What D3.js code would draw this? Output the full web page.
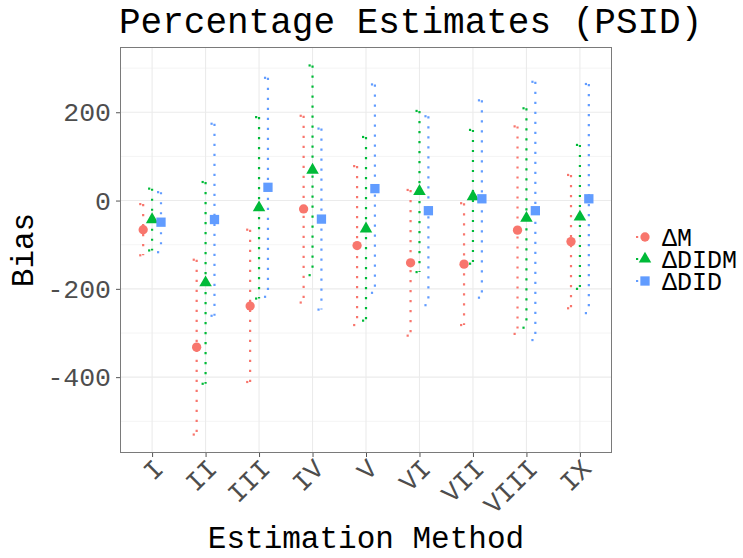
<!DOCTYPE html>
<html>
<head>
<meta charset="utf-8">
<script src="https://cdn.jsdelivr.net/npm/d3@7"></script>
<style>
  html, body { margin: 0; padding: 0; background: #fff; }
  svg { display: block; }
  text { font-family: "Liberation Mono", "DejaVu Sans Mono", monospace; }
</style>
</head>
<body>
<svg id="chart" width="743" height="558"></svg>
<script>
// ---- data ----
const categories = ["I","II","III","IV","V","VI","VII","VIII","IX"];
const seriesNames = ["\u0394M", "\u0394DIDM", "\u0394DID"];
const M_est  = [-66, -332, -239, -19, -102, -141, -144, -67, -93];
const M_lo   = [-124, -530, -411, -231, -282, -306, -282, -302, -244];
const M_hi   = [-8, -134, -66, 192, 78, 24, -6, 168, 58];
const DIDM_est = [-43, -186, -16, 69, -64, 21, 9, -40, -37];
const DIDM_lo  = [-113, -415, -222, -169, -272, -162, -143, -288, -200];
const DIDM_hi  = [27, 42, 189, 306, 144, 203, 160, 209, 126];
const DID_est = [-49, -43, 30, -42, 27, -23, 4, -23, 4];
const DID_lo  = [-117, -261, -218, -247, -209, -237, -220, -316, -255];
const DID_hi  = [19, 174, 278, 163, 263, 191, 227, 269, 264];
const yTicks = [-400, -200, 0, 200];
const yMinor = [-500, -300, -100, 100, 300];

const colors = ["#F8766D", "#00BA38", "#619CFF"];
const shapes = ["circle", "triangle", "square"];

const series = [
  {est: M_est, lo: M_lo, hi: M_hi},
  {est: DIDM_est, lo: DIDM_lo, hi: DIDM_hi},
  {est: DID_est, lo: DID_lo, hi: DID_hi}
];

// ---- layout ----
const panel = {left: 120, right: 612, top: 47, bottom: 453};
const svg = d3.select("#chart");

const x = d3.scalePoint().domain(categories).range([panel.left, panel.right]).padding(0.6);
const step = x.step();
const dodge = [-1/6, 0, 1/6];

const allVals = [].concat(M_lo, M_hi, DIDM_lo, DIDM_hi, DID_lo, DID_hi);
const ext = d3.extent(allVals);
const pad = (ext[1] - ext[0]) * 0.05;
const y = d3.scaleLinear().domain([ext[0] - pad, ext[1] + pad]).range([panel.bottom, panel.top]);

// panel background & grid
svg.append("rect").attr("x", panel.left).attr("y", panel.top)
  .attr("width", panel.right - panel.left).attr("height", panel.bottom - panel.top)
  .attr("fill", "#fff");

const grid = svg.append("g");
grid.selectAll("line.minor").data(yMinor).enter().append("line")
  .attr("x1", panel.left).attr("x2", panel.right)
  .attr("y1", d => y(d)).attr("y2", d => y(d))
  .attr("stroke", "#EBEBEB").attr("stroke-width", 0.55);
grid.selectAll("line.majy").data(yTicks).enter().append("line")
  .attr("x1", panel.left).attr("x2", panel.right)
  .attr("y1", d => y(d)).attr("y2", d => y(d))
  .attr("stroke", "#EBEBEB").attr("stroke-width", 1.1);
grid.selectAll("line.majx").data(categories).enter().append("line")
  .attr("x1", d => x(d)).attr("x2", d => x(d))
  .attr("y1", panel.top).attr("y2", panel.bottom)
  .attr("stroke", "#EBEBEB").attr("stroke-width", 1.1);

// error bars
const capHalf = 4;
const dotStyle = {w: 2.2, dash: "2.2 7.8"};
series.forEach((s, si) => {
  const g = svg.append("g");
  categories.forEach((c, i) => {
    const cx = x(c) + dodge[si] * step;
    const yt = y(s.hi[i]), yb = y(s.lo[i]);
    const segs = [
      [cx - capHalf, yt, cx + capHalf, yt],
      [cx, yt, cx, yb],
      [cx - capHalf, yb, cx + capHalf, yb]
    ];
    segs.forEach(sg => {
      g.append("line")
        .attr("x1", sg[0]).attr("y1", sg[1]).attr("x2", sg[2]).attr("y2", sg[3])
        .attr("stroke", colors[si]).attr("stroke-width", dotStyle.w)
        .attr("stroke-dasharray", dotStyle.dash);
    });
  });
});

// point drawing
function drawShape(g, shape, cx, cy, color) {
  const R = 4.65;
  if (shape === "circle") {
    g.append("circle").attr("cx", cx).attr("cy", cy).attr("r", R).attr("fill", color);
  } else if (shape === "triangle") {
    const r = 1.555 * R, xc = 1.347 * R, yc = 0.778 * R;
    g.append("path")
      .attr("d", `M${cx},${cy - r}L${cx + xc},${cy + yc}L${cx - xc},${cy + yc}Z`)
      .attr("fill", color);
  } else {
    g.append("rect").attr("x", cx - R).attr("y", cy - R)
      .attr("width", 2 * R).attr("height", 2 * R).attr("fill", color);
  }
}

series.forEach((s, si) => {
  const g = svg.append("g");
  categories.forEach((c, i) => {
    drawShape(g, shapes[si], x(c) + dodge[si] * step, y(s.est[i]), colors[si]);
  });
});

// panel border
svg.append("rect").attr("x", panel.left + 0.5).attr("y", panel.top + 0.5)
  .attr("width", panel.right - panel.left - 1).attr("height", panel.bottom - panel.top - 1)
  .attr("fill", "none").attr("stroke", "#7a7a7a").attr("stroke-width", 1);

// axes
const tickColor = "#555";
const labColor = "#4D4D4D";
const yAxis = svg.append("g").attr("transform", `translate(${panel.left},0)`)
  .call(d3.axisLeft(y).tickValues(yTicks).tickSize(4).tickPadding(5).tickFormat(d => d3.format("d")(d).replace("\u2212", "-")));
yAxis.select(".domain").remove();
yAxis.selectAll(".tick line").attr("stroke", tickColor).attr("stroke-width", 1);
yAxis.selectAll(".tick text").attr("fill", labColor).attr("font-size", 26.5)
  .attr("font-family", "Liberation Mono");

const xAxis = svg.append("g").attr("transform", `translate(0,${panel.bottom})`)
  .call(d3.axisBottom(x).tickSize(4).tickPadding(0));
xAxis.select(".domain").remove();
xAxis.selectAll(".tick line").attr("stroke", tickColor).attr("stroke-width", 1);
xAxis.selectAll(".tick text")
  .attr("fill", labColor).attr("font-size", 26.5).attr("font-family", "Liberation Mono")
  .attr("text-anchor", "end").attr("dy", "0.72em")
  .attr("transform", "translate(-4,1) rotate(-45)");

// titles
svg.append("text").attr("x", 119).attr("y", 33).attr("font-size", 36).attr("fill", "#000")
  .text("Percentage Estimates (PSID)");
svg.append("text").attr("x", (panel.left + panel.right) / 2).attr("y", 548)
  .attr("text-anchor", "middle").attr("font-size", 31).attr("fill", "#000")
  .text("Estimation Method");
svg.append("text").attr("transform", `translate(33,${(panel.top + panel.bottom) / 2}) rotate(-90)`)
  .attr("text-anchor", "middle").attr("font-size", 31).attr("fill", "#000")
  .text("Bias");

// legend
const leg = svg.append("g");
const legTexts = [];
seriesNames.forEach((name, si) => {
  const ly = 237 + si * 22;
  leg.append("line").attr("x1", 636).attr("x2", 654).attr("y1", ly).attr("y2", ly)
    .attr("stroke", colors[si]).attr("stroke-width", dotStyle.w).attr("stroke-dasharray", dotStyle.dash);
  drawShape(leg, shapes[si], 645, ly, colors[si]);
  legTexts.push(leg.append("text").attr("x", 662).attr("y", ly).attr("dy", "0.36em")
    .attr("font-size", 25).attr("fill", "#000").text(name));
});
// fit legend label size so that the widest label spans like the reference (~75px)
const wLen = legTexts[1].node().getComputedTextLength();
if (wLen > 0) {
  const fs = Math.max(20, Math.min(28, 25 * 75 / wLen));
  legTexts.forEach(t => t.attr("font-size", fs));
}
</script>
</body>
</html>
